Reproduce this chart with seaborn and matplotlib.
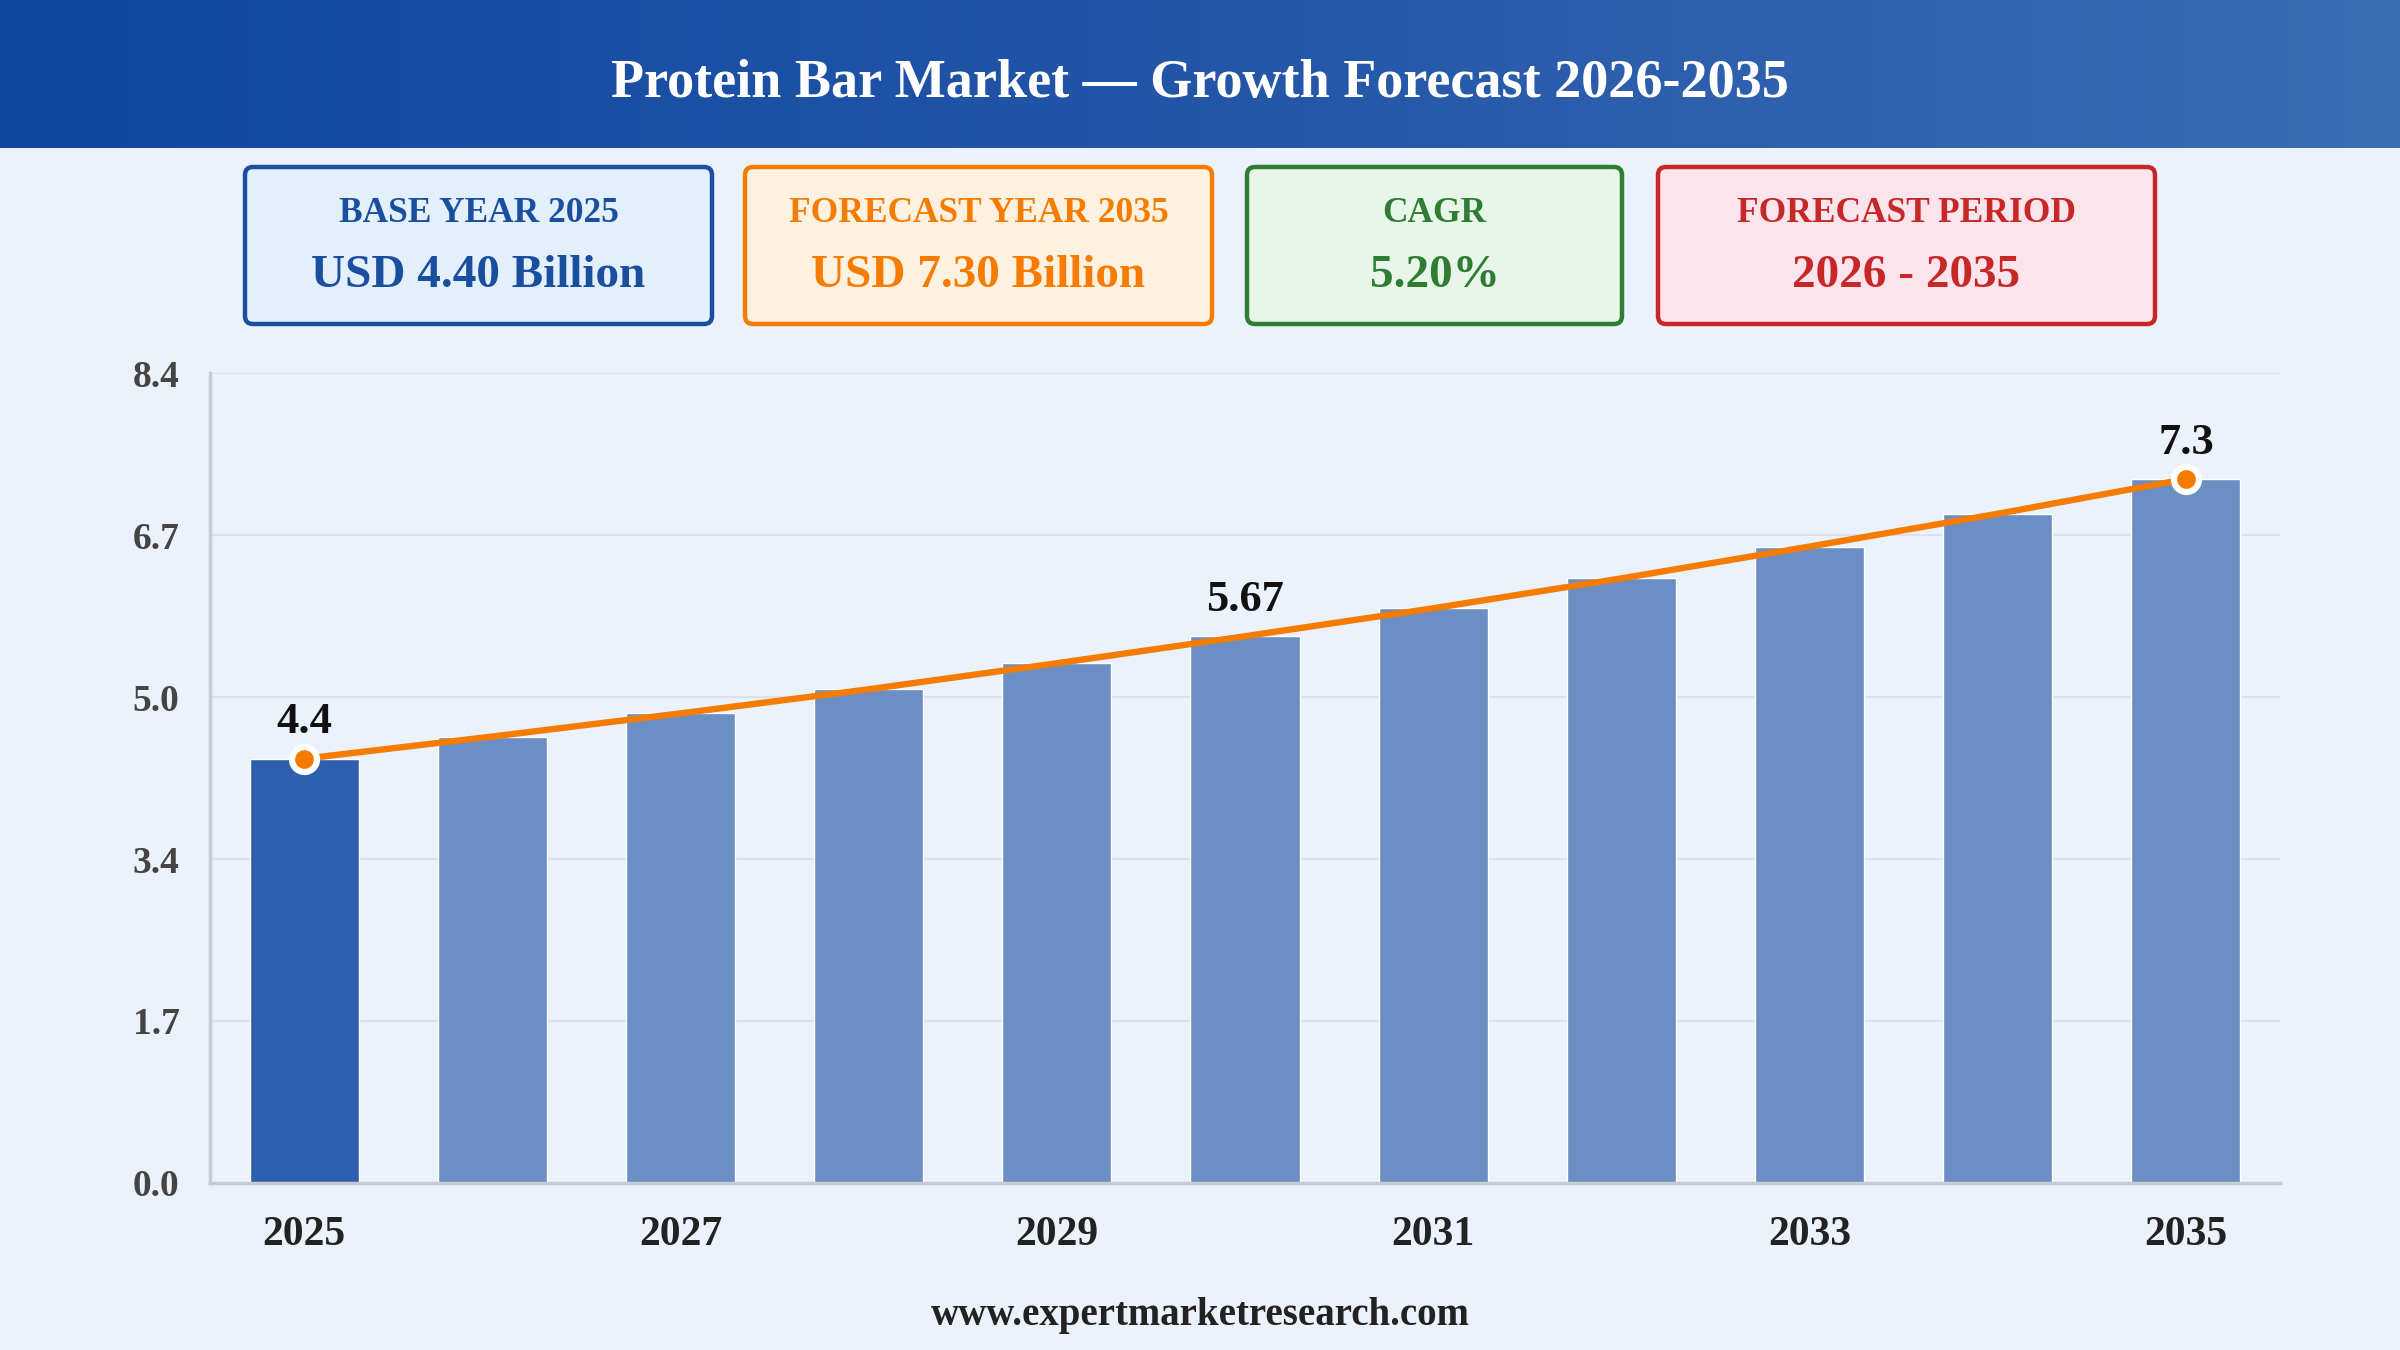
import numpy as np
import pandas as pd
import seaborn as sns
import matplotlib.pyplot as plt
from matplotlib.patches import FancyBboxPatch
from matplotlib.colors import LinearSegmentedColormap

sns.set_theme(style="white")
plt.rcParams['font.family'] = ['Liberation Serif', 'DejaVu Serif']

# data
years = ["2025", "2026", "2027", "2028", "2029", "2030", "2031", "2032", "2033", "2034", "2035"]
market_size = [4.40, 4.63, 4.87, 5.12, 5.39, 5.67, 5.96, 6.27, 6.60, 6.94, 7.30]
labelled_years = ["2025", "2030", "2035"]
yticks = [0.0, 1.68, 3.36, 5.04, 6.72, 8.4]

title = "Protein Bar Market \u2014 Growth Forecast 2026-2035"
card_titles = ["BASE YEAR 2025", "FORECAST YEAR 2035", "CAGR", "FORECAST PERIOD"]
card_values = ["USD 4.40 Billion", "USD 7.30 Billion", "5.20%", "2026 - 2035"]
footer = "www.expertmarketresearch.com"

BG = "#EBF2FB"
ORANGE = "#F57C00"

W, H = 2400, 1350
fig = plt.figure(figsize=(24, 13.5), dpi=100, facecolor=BG)

# header band with gradient
hax = fig.add_axes([0, 1 - 148 / H, 1, 148 / H])
grad = np.linspace(0, 1, 256).reshape(1, -1)
cmap = LinearSegmentedColormap.from_list("hdr", ["#0F47A1", "#2456A8", "#3B6DB5"])
hax.imshow(grad, aspect="auto", cmap=cmap, extent=[0, 1, 0, 1])
hax.set_axis_off()
hax.text(0.5, 0.43, title, color="white", fontsize=39, fontweight="bold",
         ha="center", va="center", transform=hax.transAxes)

# overlay for cards and footer (pixel coords, y down)
oax = fig.add_axes([0, 0, 1, 1], facecolor="none")
oax.set_xlim(0, W)
oax.set_ylim(H, 0)
oax.set_axis_off()

card_x = [(245, 712), (745, 1212), (1247, 1622), (1658, 2155)]
card_edge = ["#1A4FA0", "#F57C00", "#2E7D32", "#C62828"]
card_face = ["#E3F0FC", "#FFF1E0", "#E8F5E9", "#FCE4EC"]
top, bot = 167, 324
for (x0, x1), t, v, ec, fc in zip(card_x, card_titles, card_values, card_edge, card_face):
    box = FancyBboxPatch((x0, top), x1 - x0, bot - top,
                         boxstyle="round,pad=0,rounding_size=8",
                         linewidth=3.2, edgecolor=ec, facecolor=fc)
    oax.add_patch(box)
    cx = (x0 + x1) / 2
    oax.text(cx, 213, t, color=ec, fontsize=25.5, fontweight="bold", ha="center", va="center")
    oax.text(cx, 276, v, color=ec, fontsize=34, fontweight="bold", ha="center", va="center")

oax.text(W / 2, 1316, footer, color="#222222", fontsize=28, fontweight="bold",
         ha="center", va="center")

# main chart
ax = fig.add_axes([210 / W, 1 - 1183 / H, (2280 - 210) / W, (1183 - 373) / H], facecolor=BG)
df = pd.DataFrame({"year": years, "value": market_size})
palette = {y: ("#2E5FAE" if y == "2025" else "#6B8FC4") for y in years}
sns.barplot(data=df, x="year", y="value", hue="year", palette=palette, width=0.58,
            saturation=1, legend=False, ax=ax, zorder=2)

xs = np.arange(len(years))
ax.plot(xs, market_size, color=ORANGE, linewidth=4.6, zorder=3, solid_capstyle="round")
ax.plot(xs, market_size, linestyle="none", marker="o", markevery=[0, len(years) - 1],
        markersize=18, markerfacecolor=ORANGE, markeredgecolor="white",
        markeredgewidth=4.5, zorder=4)

for y in labelled_years:
    i = years.index(y)
    v = market_size[i]
    ax.text(i, v + 0.17, f"{v:g}", ha="center", va="bottom", fontsize=32,
            fontweight="bold", color="#111111", zorder=5)

ax.set_xlim(-0.5, len(years) - 0.5)
ax.set_ylim(0, 8.4)
ax.set_yticks(yticks)
ax.set_yticklabels([f"{t:.1f}" for t in yticks], fontsize=27, fontweight="bold", color="#444444")
ax.set_xticks(xs[::2])
ax.set_xticklabels(years[::2], fontsize=30, fontweight="bold", color="#222222")
ax.tick_params(axis="both", length=0)
ax.tick_params(axis="x", pad=24)
ax.tick_params(axis="y", pad=22)
ax.grid(axis="y", color="#DCE2EA", linewidth=1.5, zorder=0)
ax.set_axisbelow(True)
ax.set_xlabel("")
ax.set_ylabel("")
for s in ["top", "right"]:
    ax.spines[s].set_visible(False)
for s in ["left", "bottom"]:
    ax.spines[s].set_color("#C8CCD2")
    ax.spines[s].set_linewidth(2.5)

fig.savefig("out.png", dpi=100, facecolor=BG)
